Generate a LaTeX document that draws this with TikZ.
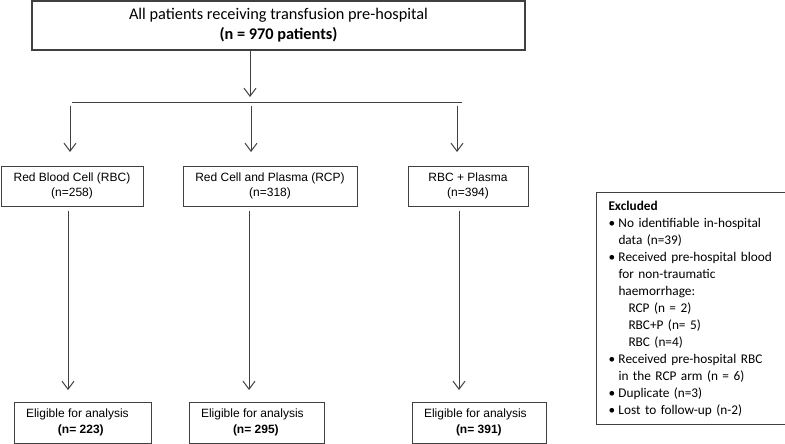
\documentclass[tikz,border=0pt]{standalone}
\usepackage{fontspec}
\setmainfont{Carlito}
\newfontfamily\arialf{Liberation Sans}
\usetikzlibrary{arrows.meta}
\definecolor{linecol}{HTML}{404040}
\newcommand{\eligtext}[2]{\begin{tabular}{@{}p{#1}@{}}Eligible for analysis\\\hspace*{32pt}\textbf{#2}\end{tabular}}
\tikzset{
  box/.style={draw=linecol, line width=1pt, inner sep=0pt, align=center},
  midbox/.style={box, minimum height=40pt, font=\arialf\fontsize{12}{14.5}\selectfont},
  elig/.style={box, minimum height=41pt, font=\arialf\fontsize{12}{16}\selectfont},
  arr/.style={draw=linecol, line width=1pt, -{Straight Barb[length=8pt,width=12pt,line width=1pt]}},
  plain/.style={draw=linecol, line width=1pt},
}
\begin{document}
\begin{tikzpicture}[x=1pt,y=-1pt]
\useasboundingbox[fill=white] (0,0) rectangle (785,444);
% top box
\node[box, line width=1.4pt, minimum width=493pt, minimum height=49pt, font=\fontsize{16.3}{20}\selectfont] (top) at (278.5,25.5)
  {All patients receiving transfusion pre-hospital\\\textbf{(n = 970 patients)}};
% split
\coordinate (hl) at (72,103);
\coordinate (hr) at (462,103);
\coordinate (jt) at (250,97);
\draw[arr] (top.south -| jt) -- (jt);
\draw[plain] (hl) -- (hr);
% mid boxes
\node[midbox, minimum width=142pt] (b1) at (72,186) {Red Blood Cell (RBC)\\(n=258)};
\node[midbox, minimum width=174pt] (b2) at (270,186) {Red Cell and Plasma (RCP)\\(n=318)};
\node[midbox, minimum width=120pt] (b3) at (468,186) {RBC + Plasma\\(n=394)};
\coordinate (d1) at (70,106);
\coordinate (d2) at (251,106);
\coordinate (d3) at (457,106);
\draw[arr] (d1) -- (d1 |- 0,152);
\draw[arr] (d2) -- (d2 |- 0,152);
\draw[arr] (d3) -- (d3 |- 0,152);
% bottom boxes
\node[elig, minimum width=137pt] (e1) at (82.5,422.5) {\eligtext{113pt}{(n= 223)}};
\node[elig, minimum width=135pt] (e2) at (256.5,422.5) {\eligtext{111pt}{(n= 295)}};
\node[elig, minimum width=134pt] (e3) at (479,422.5) {\eligtext{110pt}{(n= 391)}};
\draw[arr] ([yshift=-4pt]b1.south -| 68,0) -- (68,390);
\draw[arr] ([yshift=-4pt]b2.south -| 249,0) -- (249,390);
\draw[arr] ([yshift=-4pt]b3.south -| 459,0) -- (459,390);
% excluded box
\newcommand{\bul}{\makebox[10pt][l]{\textbullet}}
\newcommand{\ind}{\hspace*{10pt}}
\node[box, anchor=north west, minimum width=188pt, minimum height=232pt, align=left, text width=176pt, inner xsep=12pt, inner ysep=6pt, font=\fontsize{13.3}{17}\selectfont] (ex) at (596,192) {%
\textbf{Excluded}\\
\bul No identifiable in-hospital\\
\ind data (n=39)\\
\bul Received pre-hospital blood\\
\ind for non-traumatic\\
\ind haemorrhage:\\
\ind\ind RCP (n = 2)\\
\ind\ind RBC+P (n= 5)\\
\ind\ind RBC (n=4)\\
\bul Received pre-hospital RBC\\
\ind in the RCP arm (n = 6)\\
\bul Duplicate (n=3)\\
\bul Lost to follow-up (n-2)};
\end{tikzpicture}
\end{document}
